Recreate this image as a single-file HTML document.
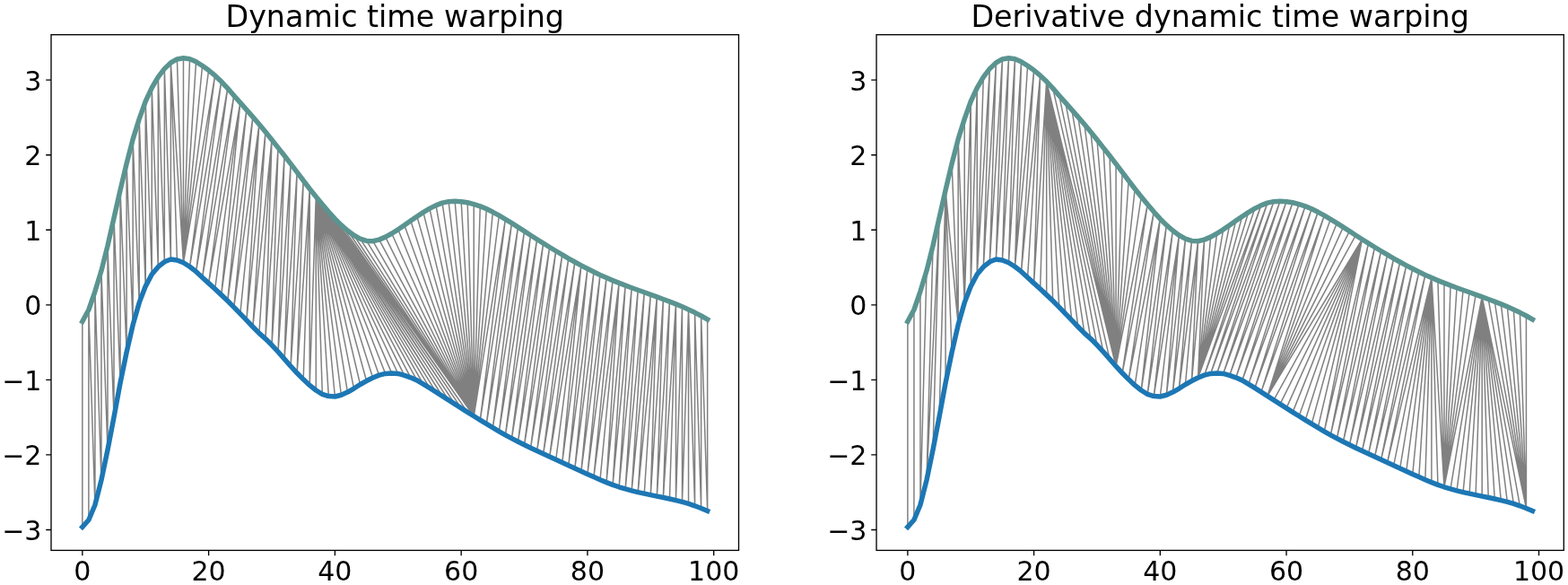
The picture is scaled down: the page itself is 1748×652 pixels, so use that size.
<!DOCTYPE html>
<html lang="en"><head><meta charset="utf-8"><title>Dynamic time warping</title>
<style>html,body{margin:0;padding:0;background:#fff}body{width:1748px;height:652px;overflow:hidden}svg{display:block}</style></head>
<body>
<svg width="1748" height="652" viewBox="0 0 1748 652">
<rect width="1748" height="652" fill="#fff"/>
<defs><filter id="soft" x="-2%" y="-2%" width="104%" height="104%"><feGaussianBlur stdDeviation="0.45"/></filter></defs>
<g filter="url(#soft)">
<path d="M91.84 358.38L91.84 587.34M98.88 345.26L98.88 579.48M98.88 345.26L105.92 562.78M105.92 324.79L105.92 562.78M105.92 324.79L112.96 535.15M112.96 301.81L112.96 535.15M112.96 301.81L120.00 501.39M120.00 273.82L120.00 501.39M120.00 273.82L127.03 464.85M127.03 242.90L127.03 464.85M127.03 242.90L134.07 426.87M134.07 211.98L134.07 426.87M134.07 211.98L141.11 392.61M141.11 182.32L141.11 392.61M141.11 182.32L148.15 362.07M148.15 155.16L148.15 362.07M148.15 155.16L155.19 337.38M155.19 132.60L155.19 337.38M155.19 132.60L162.23 319.11M162.23 112.96L162.23 319.11M162.23 112.96L169.27 305.67M169.27 97.92L169.27 305.67M169.27 97.92L176.30 297.46M176.30 85.81L176.30 297.46M176.30 85.81L183.34 291.77M183.34 76.62L183.34 291.77M183.34 76.62L190.38 289.03M190.38 69.93L190.38 289.03M190.38 69.93L197.42 289.94M190.38 69.93L204.46 292.79M197.42 65.92L204.46 292.79M204.46 64.75L204.46 292.79M211.50 65.75L204.46 292.79M218.54 68.84L204.46 292.79M225.57 73.27L204.46 292.79M232.61 78.29L204.46 292.79M239.65 84.14L204.46 292.79M239.65 84.14L211.50 297.21M246.69 90.82L211.50 297.21M246.69 90.82L218.54 302.65M253.73 98.34L218.54 302.65M253.73 98.34L225.57 309.16M260.77 106.53L225.57 309.16M260.77 106.53L232.61 315.60M267.81 114.40L232.61 315.60M267.81 114.40L239.65 322.03M267.81 114.40L246.69 328.63M274.84 122.32L246.69 328.63M274.84 122.32L253.73 335.32M281.88 130.35L253.73 335.32M281.88 130.35L260.77 342.34M288.92 138.58L260.77 342.34M288.92 138.58L267.81 349.69M288.92 138.58L274.84 356.96M295.96 147.05L274.84 356.96M295.96 147.05L281.88 364.23M303.00 155.74L281.88 364.23M303.00 155.74L288.92 371.42M303.00 155.74L295.96 377.57M310.04 164.60L295.96 377.57M310.04 164.60L303.00 384.55M317.08 173.57L303.00 384.55M317.08 173.57L310.04 392.17M324.11 182.60L310.04 392.17M324.11 182.60L317.08 400.11M331.15 191.97L317.08 400.11M331.15 191.97L324.11 408.23M338.19 201.28L324.11 408.23M338.19 201.28L331.15 415.81M345.23 210.49L331.15 415.81M345.23 210.49L338.19 422.83M345.23 210.49L345.23 429.41M352.27 219.24L345.23 429.41M352.27 219.24L352.27 435.02M352.27 219.24L359.31 439.28M352.27 219.24L366.35 441.59M352.27 219.24L373.38 442.00M352.27 219.24L380.42 440.27M352.27 219.24L387.46 437.11M352.27 219.24L394.50 433.04M352.27 219.24L401.54 428.48M352.27 219.24L408.58 424.57M352.27 219.24L415.62 420.96M352.27 219.24L422.65 418.16M352.27 219.24L429.69 416.42M352.27 219.24L436.73 415.89M352.27 219.24L443.77 416.47M352.27 219.24L450.81 418.39M352.27 219.24L457.85 420.80M352.27 219.24L464.88 423.88M352.27 219.24L471.92 428.11M352.27 219.24L478.96 432.45M352.27 219.24L486.00 436.86M352.27 219.24L493.04 441.33M359.31 227.78L493.04 441.33M359.31 227.78L500.08 445.83M359.31 227.78L507.12 450.35M366.35 236.05L507.12 450.35M366.35 236.05L514.15 454.86M366.35 236.05L521.19 459.35M373.38 243.93L521.19 459.35M373.38 243.93L528.23 463.79M380.42 250.90L528.23 463.79M387.46 257.02L528.23 463.79M394.50 262.28L528.23 463.79M401.54 266.18L528.23 463.79M408.58 268.48L528.23 463.79M415.62 268.72L528.23 463.79M422.65 267.14L528.23 463.79M429.69 264.12L528.23 463.79M436.73 260.29L528.23 463.79M443.77 255.83L528.23 463.79M450.81 251.03L528.23 463.79M457.85 246.09L528.23 463.79M464.88 241.21L528.23 463.79M471.92 236.59L528.23 463.79M478.96 232.41L528.23 463.79M486.00 228.87L528.23 463.79M493.04 226.17L528.23 463.79M500.08 224.66L528.23 463.79M507.12 224.29L528.23 463.79M514.15 224.66L528.23 463.79M521.19 225.76L528.23 463.79M528.23 227.56L528.23 463.79M535.27 229.87L528.23 463.79M542.31 232.83L528.23 463.79M549.35 236.33L528.23 463.79M556.39 240.17L528.23 463.79M563.42 244.32L528.23 463.79M563.42 244.32L535.27 468.17M570.46 248.68L535.27 468.17M570.46 248.68L542.31 472.47M577.50 253.18L542.31 472.47M577.50 253.18L549.35 476.71M584.54 257.69L549.35 476.71M584.54 257.69L556.39 480.82M591.58 262.23L556.39 480.82M591.58 262.23L563.42 484.79M598.62 266.74L563.42 484.79M598.62 266.74L570.46 488.61M605.66 271.13L570.46 488.61M605.66 271.13L577.50 492.28M612.69 275.47L577.50 492.28M612.69 275.47L584.54 495.82M619.73 279.74L584.54 495.82M619.73 279.74L591.58 499.24M626.77 283.93L591.58 499.24M626.77 283.93L598.62 502.58M633.81 288.02L598.62 502.58M633.81 288.02L605.66 505.84M640.85 291.99L605.66 505.84M640.85 291.99L612.69 509.10M647.89 295.83L612.69 509.10M647.89 295.83L619.73 512.31M647.89 295.83L626.77 515.51M654.93 299.53L626.77 515.51M654.93 299.53L633.81 518.72M661.96 303.07L633.81 518.72M661.96 303.07L640.85 521.94M669.00 306.44L640.85 521.94M669.00 306.44L647.89 525.19M676.04 309.61L647.89 525.19M676.04 309.61L654.93 528.42M683.08 312.60L654.93 528.42M683.08 312.60L661.96 531.60M690.12 315.42L661.96 531.60M690.12 315.42L669.00 534.67M690.12 315.42L676.04 537.59M697.16 318.12L676.04 537.59M697.16 318.12L683.08 540.32M704.20 320.72L683.08 540.32M704.20 320.72L690.12 542.76M711.23 323.26L690.12 542.76M711.23 323.26L697.16 544.92M718.27 325.77L697.16 544.92M718.27 325.77L704.20 546.84M725.31 328.30L704.20 546.84M725.31 328.30L711.23 548.57M732.35 330.87L711.23 548.57M732.35 330.87L718.27 550.16M732.35 330.87L725.31 551.65M739.39 333.52L725.31 551.65M739.39 333.52L732.35 553.10M746.43 336.12L732.35 553.10M746.43 336.12L739.39 554.54M753.47 338.86L739.39 554.54M753.47 338.86L746.43 556.03M753.47 338.86L753.47 557.62M760.50 341.79L753.47 557.62M760.50 341.79L760.50 559.36M767.54 344.93L760.50 559.36M767.54 344.93L767.54 561.44M767.54 344.93L774.58 563.77M774.58 348.32L774.58 563.77M774.58 348.32L781.62 566.46M781.62 352.00L781.62 566.46M781.62 352.00L788.66 569.50M788.66 356.00L788.66 569.50" fill="none" stroke="#808080" stroke-width="1.5"/>
<polyline points="91.84,358.38 98.88,345.26 105.92,324.79 112.96,301.81 120.00,273.82 127.03,242.90 134.07,211.98 141.11,182.32 148.15,155.16 155.19,132.60 162.23,112.96 169.27,97.92 176.30,85.81 183.34,76.62 190.38,69.93 197.42,65.92 204.46,64.75 211.50,65.75 218.54,68.84 225.57,73.27 232.61,78.29 239.65,84.14 246.69,90.82 253.73,98.34 260.77,106.53 267.81,114.40 274.84,122.32 281.88,130.35 288.92,138.58 295.96,147.05 303.00,155.74 310.04,164.60 317.08,173.57 324.11,182.60 331.15,191.97 338.19,201.28 345.23,210.49 352.27,219.24 359.31,227.78 366.35,236.05 373.38,243.93 380.42,250.90 387.46,257.02 394.50,262.28 401.54,266.18 408.58,268.48 415.62,268.72 422.65,267.14 429.69,264.12 436.73,260.29 443.77,255.83 450.81,251.03 457.85,246.09 464.88,241.21 471.92,236.59 478.96,232.41 486.00,228.87 493.04,226.17 500.08,224.66 507.12,224.29 514.15,224.66 521.19,225.76 528.23,227.56 535.27,229.87 542.31,232.83 549.35,236.33 556.39,240.17 563.42,244.32 570.46,248.68 577.50,253.18 584.54,257.69 591.58,262.23 598.62,266.74 605.66,271.13 612.69,275.47 619.73,279.74 626.77,283.93 633.81,288.02 640.85,291.99 647.89,295.83 654.93,299.53 661.96,303.07 669.00,306.44 676.04,309.61 683.08,312.60 690.12,315.42 697.16,318.12 704.20,320.72 711.23,323.26 718.27,325.77 725.31,328.30 732.35,330.87 739.39,333.52 746.43,336.12 753.47,338.86 760.50,341.79 767.54,344.93 774.58,348.32 781.62,352.00 788.66,356.00" fill="none" stroke="#5a9490" stroke-width="5.5" stroke-linecap="square" stroke-linejoin="round"/>
<polyline points="91.84,587.34 98.88,579.48 105.92,562.78 112.96,535.15 120.00,501.39 127.03,464.85 134.07,426.87 141.11,392.61 148.15,362.07 155.19,337.38 162.23,319.11 169.27,305.67 176.30,297.46 183.34,291.77 190.38,289.03 197.42,289.94 204.46,292.79 211.50,297.21 218.54,302.65 225.57,309.16 232.61,315.60 239.65,322.03 246.69,328.63 253.73,335.32 260.77,342.34 267.81,349.69 274.84,356.96 281.88,364.23 288.92,371.42 295.96,377.57 303.00,384.55 310.04,392.17 317.08,400.11 324.11,408.23 331.15,415.81 338.19,422.83 345.23,429.41 352.27,435.02 359.31,439.28 366.35,441.59 373.38,442.00 380.42,440.27 387.46,437.11 394.50,433.04 401.54,428.48 408.58,424.57 415.62,420.96 422.65,418.16 429.69,416.42 436.73,415.89 443.77,416.47 450.81,418.39 457.85,420.80 464.88,423.88 471.92,428.11 478.96,432.45 486.00,436.86 493.04,441.33 500.08,445.83 507.12,450.35 514.15,454.86 521.19,459.35 528.23,463.79 535.27,468.17 542.31,472.47 549.35,476.71 556.39,480.82 563.42,484.79 570.46,488.61 577.50,492.28 584.54,495.82 591.58,499.24 598.62,502.58 605.66,505.84 612.69,509.10 619.73,512.31 626.77,515.51 633.81,518.72 640.85,521.94 647.89,525.19 654.93,528.42 661.96,531.60 669.00,534.67 676.04,537.59 683.08,540.32 690.12,542.76 697.16,544.92 704.20,546.84 711.23,548.57 718.27,550.16 725.31,551.65 732.35,553.10 739.39,554.54 746.43,556.03 753.47,557.62 760.50,559.36 767.54,561.44 774.58,563.77 781.62,566.46 788.66,569.50" fill="none" stroke="#1f77b4" stroke-width="5.5" stroke-linecap="square" stroke-linejoin="round"/>
</g>
<rect x="57.00" y="38.7" width="766.50" height="574.70" fill="none" stroke="#000" stroke-width="1.33"/>
<path d="M91.84 613.4v5.8M232.61 613.4v5.8M373.38 613.4v5.8M514.15 613.4v5.8M654.93 613.4v5.8M795.70 613.4v5.8M57.00 590.51h-5.8M57.00 506.95h-5.8M57.00 423.39h-5.8M57.00 339.83h-5.8M57.00 256.27h-5.8M57.00 172.71h-5.8M57.00 89.15h-5.8" fill="none" stroke="#000" stroke-width="1.33"/>
<g font-family="'DejaVu Sans', 'Liberation Sans', sans-serif" font-size="30.0" fill="#000">
<text x="91.84" y="646.6" text-anchor="middle">0</text>
<text x="232.61" y="646.6" text-anchor="middle">20</text>
<text x="373.38" y="646.6" text-anchor="middle">40</text>
<text x="514.15" y="646.6" text-anchor="middle">60</text>
<text x="654.93" y="646.6" text-anchor="middle">80</text>
<text x="795.70" y="646.6" text-anchor="middle">100</text>
<text x="46.40" y="601.91" text-anchor="end">−3</text>
<text x="46.40" y="518.35" text-anchor="end">−2</text>
<text x="46.40" y="434.79" text-anchor="end">−1</text>
<text x="46.40" y="351.23" text-anchor="end">0</text>
<text x="46.40" y="267.67" text-anchor="end">1</text>
<text x="46.40" y="184.11" text-anchor="end">2</text>
<text x="46.40" y="100.55" text-anchor="end">3</text>
</g>
<text x="440.25" y="29.7" text-anchor="middle" font-family="'DejaVu Sans', 'Liberation Sans', sans-serif" font-size="33.33" fill="#000">Dynamic time warping</text>
<g filter="url(#soft)">
<path d="M1011.88 358.38L1011.88 587.34M1018.92 345.26L1018.92 579.48M1025.95 324.79L1025.95 562.78M1032.99 301.81L1025.95 562.78M1040.02 273.82L1032.99 535.15M1047.06 242.90L1032.99 535.15M1047.06 242.90L1040.02 501.39M1054.10 211.98L1047.06 464.85M1054.10 211.98L1054.10 426.87M1054.10 211.98L1061.13 392.61M1054.10 211.98L1068.17 362.07M1061.13 182.32L1068.17 362.07M1068.17 155.16L1068.17 362.07M1068.17 155.16L1075.21 337.38M1075.21 132.60L1075.21 337.38M1082.24 112.96L1075.21 337.38M1082.24 112.96L1082.24 319.11M1089.28 97.92L1082.24 319.11M1089.28 97.92L1089.28 305.67M1096.31 85.81L1089.28 305.67M1103.35 76.62L1089.28 305.67M1103.35 76.62L1096.31 297.46M1110.39 69.93L1096.31 297.46M1110.39 69.93L1103.35 291.77M1117.42 65.92L1103.35 291.77M1117.42 65.92L1110.39 289.03M1124.46 64.75L1110.39 289.03M1124.46 64.75L1117.42 289.94M1131.50 65.75L1117.42 289.94M1131.50 65.75L1124.46 292.79M1138.53 68.84L1124.46 292.79M1138.53 68.84L1131.50 297.21M1145.57 73.27L1131.50 297.21M1152.60 78.29L1131.50 297.21M1152.60 78.29L1138.53 302.65M1159.64 84.14L1138.53 302.65M1159.64 84.14L1145.57 309.16M1159.64 84.14L1152.60 315.60M1166.68 90.82L1152.60 315.60M1166.68 90.82L1159.64 322.03M1166.68 90.82L1166.68 328.63M1166.68 90.82L1173.71 335.32M1166.68 90.82L1180.75 342.34M1166.68 90.82L1187.79 349.69M1166.68 90.82L1194.82 356.96M1166.68 90.82L1201.86 364.23M1166.68 90.82L1208.90 371.42M1166.68 90.82L1215.93 377.57M1166.68 90.82L1222.97 384.55M1166.68 90.82L1230.00 392.17M1166.68 90.82L1237.04 400.11M1166.68 90.82L1244.08 408.23M1173.71 98.34L1244.08 408.23M1180.75 106.53L1244.08 408.23M1187.79 114.40L1244.08 408.23M1194.82 122.32L1244.08 408.23M1201.86 130.35L1244.08 408.23M1208.90 138.58L1244.08 408.23M1215.93 147.05L1244.08 408.23M1222.97 155.74L1244.08 408.23M1230.00 164.60L1244.08 408.23M1237.04 173.57L1244.08 408.23M1244.08 182.60L1244.08 408.23M1251.11 191.97L1244.08 408.23M1258.15 201.28L1244.08 408.23M1265.19 210.49L1244.08 408.23M1272.22 219.24L1244.08 408.23M1279.26 227.78L1244.08 408.23M1279.26 227.78L1251.11 415.81M1286.29 236.05L1251.11 415.81M1286.29 236.05L1258.15 422.83M1293.33 243.93L1258.15 422.83M1293.33 243.93L1265.19 429.41M1293.33 243.93L1272.22 435.02M1300.37 250.90L1272.22 435.02M1300.37 250.90L1279.26 439.28M1307.40 257.02L1279.26 439.28M1307.40 257.02L1286.29 441.59M1314.44 262.28L1286.29 441.59M1314.44 262.28L1293.33 442.00M1314.44 262.28L1300.37 440.27M1321.48 266.18L1300.37 440.27M1321.48 266.18L1307.40 437.11M1328.51 268.48L1307.40 437.11M1328.51 268.48L1314.44 433.04M1335.55 268.72L1314.44 433.04M1335.55 268.72L1321.48 428.48M1335.55 268.72L1328.51 424.57M1342.58 267.14L1328.51 424.57M1342.58 267.14L1335.55 420.96M1349.62 264.12L1335.55 420.96M1356.66 260.29L1335.55 420.96M1363.69 255.83L1335.55 420.96M1370.73 251.03L1335.55 420.96M1377.77 246.09L1335.55 420.96M1384.80 241.21L1335.55 420.96M1391.84 236.59L1335.55 420.96M1398.87 232.41L1335.55 420.96M1405.91 228.87L1335.55 420.96M1405.91 228.87L1342.58 418.16M1412.95 226.17L1342.58 418.16M1412.95 226.17L1349.62 416.42M1419.98 224.66L1349.62 416.42M1419.98 224.66L1356.66 415.89M1427.02 224.29L1356.66 415.89M1427.02 224.29L1363.69 416.47M1434.06 224.66L1363.69 416.47M1434.06 224.66L1370.73 418.39M1441.09 225.76L1370.73 418.39M1441.09 225.76L1377.77 420.80M1448.13 227.56L1377.77 420.80M1448.13 227.56L1384.80 423.88M1455.16 229.87L1384.80 423.88M1455.16 229.87L1391.84 428.11M1462.20 232.83L1391.84 428.11M1462.20 232.83L1398.87 432.45M1469.24 236.33L1398.87 432.45M1469.24 236.33L1405.91 436.86M1476.27 240.17L1405.91 436.86M1476.27 240.17L1412.95 441.33M1483.31 244.32L1412.95 441.33M1490.35 248.68L1412.95 441.33M1497.38 253.18L1412.95 441.33M1504.42 257.69L1412.95 441.33M1511.45 262.23L1412.95 441.33M1518.49 266.74L1412.95 441.33M1518.49 266.74L1419.98 445.83M1518.49 266.74L1427.02 450.35M1518.49 266.74L1434.06 454.86M1518.49 266.74L1441.09 459.35M1518.49 266.74L1448.13 463.79M1518.49 266.74L1455.16 468.17M1518.49 266.74L1462.20 472.47M1518.49 266.74L1469.24 476.71M1518.49 266.74L1476.27 480.82M1525.53 271.13L1476.27 480.82M1525.53 271.13L1483.31 484.79M1532.56 275.47L1483.31 484.79M1532.56 275.47L1490.35 488.61M1539.60 279.74L1490.35 488.61M1539.60 279.74L1497.38 492.28M1546.64 283.93L1497.38 492.28M1546.64 283.93L1504.42 495.82M1553.67 288.02L1504.42 495.82M1553.67 288.02L1511.45 499.24M1560.71 291.99L1511.45 499.24M1560.71 291.99L1518.49 502.58M1567.75 295.83L1518.49 502.58M1567.75 295.83L1525.53 505.84M1574.78 299.53L1525.53 505.84M1574.78 299.53L1532.56 509.10M1581.82 303.07L1532.56 509.10M1581.82 303.07L1539.60 512.31M1588.85 306.44L1539.60 512.31M1588.85 306.44L1546.64 515.51M1595.89 309.61L1546.64 515.51M1595.89 309.61L1553.67 518.72M1595.89 309.61L1560.71 521.94M1595.89 309.61L1567.75 525.19M1595.89 309.61L1574.78 528.42M1595.89 309.61L1581.82 531.60M1595.89 309.61L1588.85 534.67M1595.89 309.61L1595.89 537.59M1595.89 309.61L1602.93 540.32M1595.89 309.61L1609.96 542.76M1602.93 312.60L1609.96 542.76M1609.96 315.42L1609.96 542.76M1617.00 318.12L1609.96 542.76M1624.04 320.72L1609.96 542.76M1631.07 323.26L1609.96 542.76M1638.11 325.77L1609.96 542.76M1645.14 328.30L1609.96 542.76M1652.18 330.87L1609.96 542.76M1652.18 330.87L1617.00 544.92M1652.18 330.87L1624.04 546.84M1652.18 330.87L1631.07 548.57M1652.18 330.87L1638.11 550.16M1652.18 330.87L1645.14 551.65M1652.18 330.87L1652.18 553.10M1652.18 330.87L1659.22 554.54M1652.18 330.87L1666.25 556.03M1652.18 330.87L1673.29 557.62M1652.18 330.87L1680.33 559.36M1652.18 330.87L1687.36 561.44M1652.18 330.87L1694.40 563.77M1652.18 330.87L1701.43 566.46M1659.22 333.52L1701.43 566.46M1666.25 336.12L1701.43 566.46M1673.29 338.86L1701.43 566.46M1680.33 341.79L1701.43 566.46M1687.36 344.93L1701.43 566.46M1694.40 348.32L1701.43 566.46M1701.43 352.00L1701.43 566.46" fill="none" stroke="#808080" stroke-width="1.5"/>
<polyline points="1011.88,358.38 1018.92,345.26 1025.95,324.79 1032.99,301.81 1040.02,273.82 1047.06,242.90 1054.10,211.98 1061.13,182.32 1068.17,155.16 1075.21,132.60 1082.24,112.96 1089.28,97.92 1096.31,85.81 1103.35,76.62 1110.39,69.93 1117.42,65.92 1124.46,64.75 1131.50,65.75 1138.53,68.84 1145.57,73.27 1152.60,78.29 1159.64,84.14 1166.68,90.82 1173.71,98.34 1180.75,106.53 1187.79,114.40 1194.82,122.32 1201.86,130.35 1208.90,138.58 1215.93,147.05 1222.97,155.74 1230.00,164.60 1237.04,173.57 1244.08,182.60 1251.11,191.97 1258.15,201.28 1265.19,210.49 1272.22,219.24 1279.26,227.78 1286.29,236.05 1293.33,243.93 1300.37,250.90 1307.40,257.02 1314.44,262.28 1321.48,266.18 1328.51,268.48 1335.55,268.72 1342.58,267.14 1349.62,264.12 1356.66,260.29 1363.69,255.83 1370.73,251.03 1377.77,246.09 1384.80,241.21 1391.84,236.59 1398.87,232.41 1405.91,228.87 1412.95,226.17 1419.98,224.66 1427.02,224.29 1434.06,224.66 1441.09,225.76 1448.13,227.56 1455.16,229.87 1462.20,232.83 1469.24,236.33 1476.27,240.17 1483.31,244.32 1490.35,248.68 1497.38,253.18 1504.42,257.69 1511.45,262.23 1518.49,266.74 1525.53,271.13 1532.56,275.47 1539.60,279.74 1546.64,283.93 1553.67,288.02 1560.71,291.99 1567.75,295.83 1574.78,299.53 1581.82,303.07 1588.85,306.44 1595.89,309.61 1602.93,312.60 1609.96,315.42 1617.00,318.12 1624.04,320.72 1631.07,323.26 1638.11,325.77 1645.14,328.30 1652.18,330.87 1659.22,333.52 1666.25,336.12 1673.29,338.86 1680.33,341.79 1687.36,344.93 1694.40,348.32 1701.43,352.00 1708.47,356.00" fill="none" stroke="#5a9490" stroke-width="5.5" stroke-linecap="square" stroke-linejoin="round"/>
<polyline points="1011.88,587.34 1018.92,579.48 1025.95,562.78 1032.99,535.15 1040.02,501.39 1047.06,464.85 1054.10,426.87 1061.13,392.61 1068.17,362.07 1075.21,337.38 1082.24,319.11 1089.28,305.67 1096.31,297.46 1103.35,291.77 1110.39,289.03 1117.42,289.94 1124.46,292.79 1131.50,297.21 1138.53,302.65 1145.57,309.16 1152.60,315.60 1159.64,322.03 1166.68,328.63 1173.71,335.32 1180.75,342.34 1187.79,349.69 1194.82,356.96 1201.86,364.23 1208.90,371.42 1215.93,377.57 1222.97,384.55 1230.00,392.17 1237.04,400.11 1244.08,408.23 1251.11,415.81 1258.15,422.83 1265.19,429.41 1272.22,435.02 1279.26,439.28 1286.29,441.59 1293.33,442.00 1300.37,440.27 1307.40,437.11 1314.44,433.04 1321.48,428.48 1328.51,424.57 1335.55,420.96 1342.58,418.16 1349.62,416.42 1356.66,415.89 1363.69,416.47 1370.73,418.39 1377.77,420.80 1384.80,423.88 1391.84,428.11 1398.87,432.45 1405.91,436.86 1412.95,441.33 1419.98,445.83 1427.02,450.35 1434.06,454.86 1441.09,459.35 1448.13,463.79 1455.16,468.17 1462.20,472.47 1469.24,476.71 1476.27,480.82 1483.31,484.79 1490.35,488.61 1497.38,492.28 1504.42,495.82 1511.45,499.24 1518.49,502.58 1525.53,505.84 1532.56,509.10 1539.60,512.31 1546.64,515.51 1553.67,518.72 1560.71,521.94 1567.75,525.19 1574.78,528.42 1581.82,531.60 1588.85,534.67 1595.89,537.59 1602.93,540.32 1609.96,542.76 1617.00,544.92 1624.04,546.84 1631.07,548.57 1638.11,550.16 1645.14,551.65 1652.18,553.10 1659.22,554.54 1666.25,556.03 1673.29,557.62 1680.33,559.36 1687.36,561.44 1694.40,563.77 1701.43,566.46 1708.47,569.50" fill="none" stroke="#1f77b4" stroke-width="5.5" stroke-linecap="square" stroke-linejoin="round"/>
</g>
<rect x="977.05" y="38.7" width="766.25" height="574.70" fill="none" stroke="#000" stroke-width="1.33"/>
<path d="M1011.88 613.4v5.8M1152.60 613.4v5.8M1293.33 613.4v5.8M1434.06 613.4v5.8M1574.78 613.4v5.8M1715.51 613.4v5.8M977.05 590.51h-5.8M977.05 506.95h-5.8M977.05 423.39h-5.8M977.05 339.83h-5.8M977.05 256.27h-5.8M977.05 172.71h-5.8M977.05 89.15h-5.8" fill="none" stroke="#000" stroke-width="1.33"/>
<g font-family="'DejaVu Sans', 'Liberation Sans', sans-serif" font-size="30.0" fill="#000">
<text x="1011.88" y="646.6" text-anchor="middle">0</text>
<text x="1152.60" y="646.6" text-anchor="middle">20</text>
<text x="1293.33" y="646.6" text-anchor="middle">40</text>
<text x="1434.06" y="646.6" text-anchor="middle">60</text>
<text x="1574.78" y="646.6" text-anchor="middle">80</text>
<text x="1715.51" y="646.6" text-anchor="middle">100</text>
<text x="966.45" y="601.91" text-anchor="end">−3</text>
<text x="966.45" y="518.35" text-anchor="end">−2</text>
<text x="966.45" y="434.79" text-anchor="end">−1</text>
<text x="966.45" y="351.23" text-anchor="end">0</text>
<text x="966.45" y="267.67" text-anchor="end">1</text>
<text x="966.45" y="184.11" text-anchor="end">2</text>
<text x="966.45" y="100.55" text-anchor="end">3</text>
</g>
<text x="1360.17" y="29.7" text-anchor="middle" font-family="'DejaVu Sans', 'Liberation Sans', sans-serif" font-size="33.33" fill="#000">Derivative dynamic time warping</text>
</svg>
</body></html>
